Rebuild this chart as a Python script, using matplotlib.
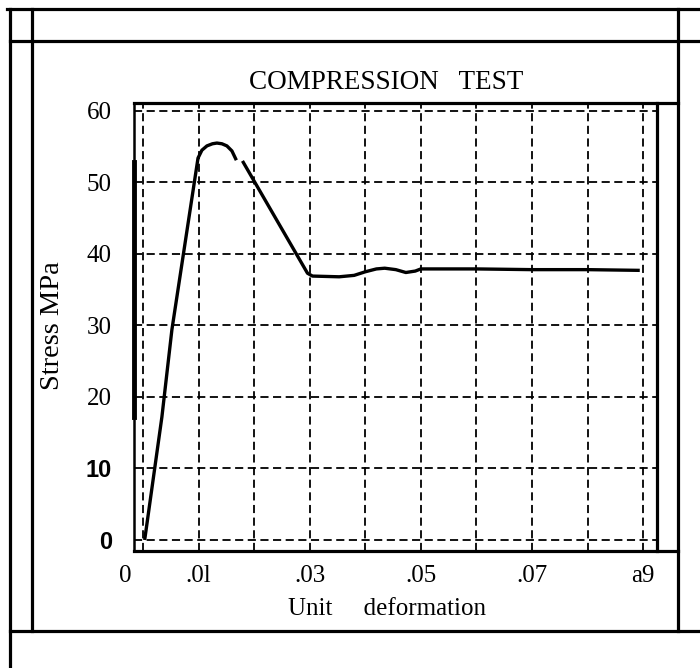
#!/usr/bin/env python
# -*- coding: utf-8 -*-
"""
# Compression test

Stress vs unit deformation, redrawn from a scanned report page.
"""

import matplotlib
matplotlib.use('Agg')
import matplotlib.pyplot as plt
from matplotlib.lines import Line2D
from matplotlib.transforms import ScaledTranslation
import numpy as np

# =============================================================================
# Define variables
# =============================================================================
# curve before the small break in the trace
strain_a = [0.0003, 0.0034, 0.0052, 0.0099, 0.0106, 0.0115, 0.0125, 0.0133,
            0.0142, 0.0151, 0.0160, 0.0168]
stress_a = [0.0, 17.2, 29.4, 53.4, 54.5, 55.1, 55.4, 55.5, 55.4, 55.1, 54.4,
            53.1]
# curve after the break
strain_b = [0.0179, 0.0296, 0.0305, 0.0353, 0.0380, 0.0400, 0.0420, 0.0435,
            0.0455, 0.0473, 0.0490, 0.0500, 0.0600, 0.0700, 0.0800, 0.0894]
stress_b = [53.0, 37.3, 36.9, 36.8, 37.0, 37.5, 37.9, 38.0, 37.8, 37.4, 37.6,
            37.9, 37.9, 37.8, 37.8, 37.7]

xgrid = np.arange(10) * 0.01
xlabels = ['0', '.0l', '', '.03', '', '.05', '', '.07', '', 'a9']
ygrid = [0, 10, 20, 30, 40, 50, 60]
ylabels = ['0', '10', '20', '30', '40', '50', '60']

TITLE = 'COMPRESSION   TEST'
XLABEL = 'Unit     deformation'
YLABEL = 'Stress MPa'

# =============================================================================
# Start of code
# =============================================================================
if __name__ == "__main__":
    plt.rcParams['font.family'] = ['Liberation Serif', 'DejaVu Serif']

    W, H = 700, 668
    fig = plt.figure(figsize=(W / 100, H / 100), dpi=100)
    ax = fig.add_axes([134 / W, 1 - 551 / H, (657 - 134) / W, (551 - 103) / H])

    # grid
    dash = (0, (4.5, 2.5))
    for xv in xgrid:
        ax.axvline(xv, color='black', lw=1.3, ls=dash, zorder=1)
    for yv in ygrid:
        ax.axhline(yv, color='black', lw=1.3, ls=dash, zorder=1)

    # curve
    ax.plot(strain_a, stress_a, color='black', lw=2.4, zorder=3,
            solid_capstyle='butt')
    ax.plot(strain_b, stress_b, color='black', lw=2.4, zorder=3,
            solid_capstyle='butt')

    ax.set_xlim(-0.00162, 0.0925)
    ax.set_ylim(-1.54, 61.1)

    # ticks
    ax.set_xticks(xgrid)
    ax.set_xticklabels(xlabels, fontsize=18)
    ax.set_yticks(ygrid)
    ax.set_yticklabels(ylabels, fontsize=18)
    ax.tick_params(axis='x', length=0, pad=10)
    ax.tick_params(axis='y', length=0, pad=16)
    for lab in ax.get_yticklabels()[:2]:
        lab.set_fontfamily(['Liberation Sans', 'DejaVu Sans'])
        lab.set_fontweight('bold')
        lab.set_fontsize(17)
    # the "0" on the x axis sits left of its grid line
    lab0 = ax.get_xticklabels()[0]
    lab0.set_transform(lab0.get_transform()
                       + ScaledTranslation(-0.18, 0, fig.dpi_scale_trans))

    # frame
    for side in ['top', 'bottom']:
        ax.spines[side].set_visible(False)
    ax.spines['right'].set_linewidth(2.3)
    ax.spines['left'].set_linewidth(1.8)
    xr = (678 - 134) / (657 - 134)
    for yy in [0, 1]:
        ax.add_line(Line2D([0, xr], [yy, yy], transform=ax.transAxes,
                           color='black', lw=2.3, clip_on=False))
    ax.axvline(ax.get_xlim()[0], ymin=(551 - 417) / 448, ymax=(551 - 162) / 448,
               color='black', lw=3.5, clip_on=False)

    # text
    ax.text(0.483, (551 - 89) / 448, TITLE, transform=ax.transAxes,
            ha='center', va='baseline', fontsize=19.5)
    ax.set_xlabel(XLABEL, fontsize=18)
    ax.xaxis.set_label_coords(0.483, -0.105)
    ax.set_ylabel(YLABEL, fontsize=20.5)
    ax.yaxis.set_label_coords(-0.132, 0.504)

    # table border of the page
    lines = [([7, 700], [9, 9]), ([10, 700], [41, 41]),
             ([10, 700], [631, 631]), ([10, 10], [9, 668]),
             ([32, 32], [9, 631]), ([678, 678], [9, 631])]
    for xs, ys in lines:
        fig.add_artist(Line2D([x / W for x in xs], [1 - y / H for y in ys],
                              transform=fig.transFigure, color='black',
                              lw=2.3))

    fig.savefig('out.png', dpi=100)
    plt.close()

# =============================================================================
# End of code
# =============================================================================
